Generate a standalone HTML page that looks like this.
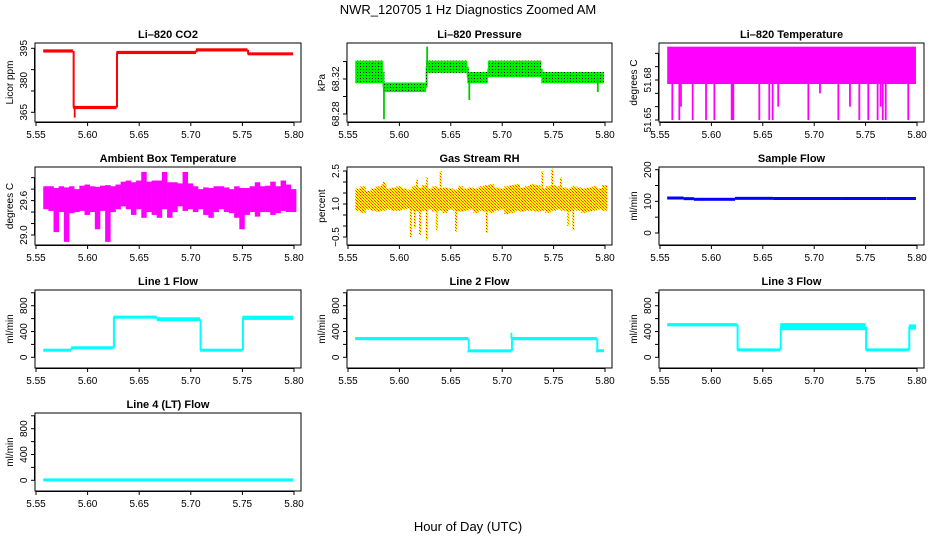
<!DOCTYPE html>
<html><head><meta charset="utf-8"><style>
html,body{margin:0;padding:0;background:#fff}
svg{display:block;font-family:"Liberation Sans",Arial,sans-serif}
</style></head><body>
<svg id="chart" width="936" height="540" viewBox="0 0 936 540">
<defs>
<pattern id="pgreen" width="3" height="3" patternUnits="userSpaceOnUse"><rect width="3" height="3" fill="#00ee00"/><rect width="1" height="1" fill="#000"/></pattern>
<pattern id="prh" width="3" height="3" patternUnits="userSpaceOnUse"><rect width="3" height="3" fill="#ffff00"/><rect width="1" height="1" fill="#ff2000"/><rect x="1" y="1" width="1" height="1" fill="#ff8000"/><rect x="2" y="2" width="1" height="1" fill="#ff4000"/></pattern>
</defs>
<text x="468" y="14" text-anchor="middle" font-size="13">NWR_120705  1 Hz Diagnostics Zoomed AM</text>
<text x="468" y="531" text-anchor="middle" font-size="13">Hour of Day (UTC)</text>
</svg>
<script>
// ---- data ----
const xTicks=[5.55,5.60,5.65,5.70,5.75,5.80];
const xTickLabels=["5.55","5.60","5.65","5.70","5.75","5.80"];
const xEnd=5.799;
const co2Start=[5.557,5.586,5.628,5.705,5.755];
const co2Lo=[393,366.5,392.3,393.5,391.8];
const co2Hi=[394.5,368,393.8,395,393];
const co2SpikeX=[5.5875];
const co2SpikeV=[362.5];
const presStart=[5.557,5.584,5.626,5.666,5.686,5.738];
const presLo=[68.315,68.305,68.327,68.315,68.322,68.315];
const presHi=[68.341,68.316,68.341,68.328,68.341,68.328];
const presSpikeX=[5.585,5.627,5.668,5.793];
const presSpikeV=[68.274,68.357,68.296,68.305];
const tempStart=[5.557];
const tempLo=[51.677];
const tempHi=[51.705];
const tempDipX=[5.562,5.5688,5.5704,5.5818,5.5948,5.6029,5.6197,5.6213,5.6466,5.6563,5.6596,5.665,5.6943,5.7056,5.7235,5.7348,5.7439,5.7526,5.7617,5.7647,5.7667,5.7696,5.7915];
const tempDipV=[51.65,51.65,51.66,51.65,51.65,51.65,51.65,51.65,51.65,51.65,51.65,51.66,51.65,51.67,51.65,51.66,51.65,51.65,51.65,51.66,51.65,51.65,51.65];
const binX0=5.557, binW=0.005;
const ambHi=[29.85,29.85,29.82,29.85,29.83,29.85,29.80,29.86,29.88,29.85,29.84,29.86,29.87,29.85,29.88,29.93,29.95,29.92,29.95,30.1,29.93,29.95,29.95,30.1,29.92,29.92,29.9,30.1,29.9,29.85,29.8,29.83,29.82,29.85,29.85,29.83,29.8,29.85,29.82,29.82,29.85,29.92,29.85,29.86,29.93,29.85,29.95,29.88,29.8];
const ambLo=[29.45,29.42,29.05,29.4,28.88,29.38,29.4,29.42,29.35,29.4,29.1,29.42,28.88,29.4,29.45,29.5,29.45,29.35,29.45,29.3,29.4,29.35,29.3,29.45,29.3,29.4,29.5,29.42,29.45,29.4,29.45,29.35,29.3,29.4,29.45,29.4,29.38,29.3,29.1,29.35,29.4,29.32,29.4,29.4,29.35,29.38,29.42,29.4,29.4];
const rhHi=[1.7,1.8,1.6,1.7,1.8,1.9,1.7,1.75,1.8,1.7,1.65,1.8,1.75,1.85,1.7,1.8,1.7,1.75,1.7,1.65,1.8,1.7,1.75,1.7,1.8,1.85,1.9,1.75,1.7,1.8,1.85,1.9,1.75,1.8,1.9,1.85,1.7,1.8,1.85,1.8,1.75,1.7,1.8,1.75,1.7,1.75,1.8,1.7,1.85];
const rhLo=[0.7,0.6,0.75,0.7,0.65,0.7,0.75,0.7,0.7,0.75,0.8,0.7,0.65,0.7,0.75,0.65,0.7,0.6,0.75,0.7,0.65,0.7,0.75,0.6,0.7,0.65,0.6,0.7,0.75,0.55,0.6,0.7,0.65,0.7,0.7,0.65,0.7,0.6,0.7,0.75,0.7,0.65,0.75,0.7,0.6,0.65,0.7,0.75,0.7];
const rhSpikeX=[5.611,5.615,5.620,5.6266,5.6363,5.655,5.685,5.7643,5.7692,5.640,5.7487,5.739,5.757,5.585,5.617,5.627];
const rhSpikeV=[-0.5,-0.1,-0.4,-0.65,-0.2,-0.25,-0.3,0.0,-0.2,2.5,2.6,2.5,2.2,2.0,2.1,2.2];
const sfStart=[5.557,5.573,5.583,5.623,5.660,5.727,5.770];
const sfLo=[109,106,103,106,106,106,106];
const sfHi=[112,111,110,113,112,112,112];
const l1Start=[5.557,5.584,5.625,5.667,5.709,5.750];
const l1Lo=[105,135,600,560,105,580];
const l1Hi=[115,160,645,620,115,645];
const l2Start=[5.557,5.667,5.709,5.792];
const l2Lo=[265,90,265,95];
const l2Hi=[315,110,315,110];
const l2SpikeX=[5.709,5.667,5.792];
const l2SpikeV=[380,75,75];
const l3Start=[5.557,5.625,5.667,5.750,5.792];
const l3Lo=[480,105,420,105,430];
const l3Hi=[530,125,530,125,510];
const l4Start=[5.557];
const l4Lo=[0];
const l4Hi=[12];

// ---- layout ----
const COLS=[[35,301],[347,612],[659,924]];
const TOPS=[43,167,290,413], BOTS=[122,245,368,491];
const NS='http://www.w3.org/2000/svg';
const svg=document.getElementById('chart');
function mk(tag,attrs,parent){const e=document.createElementNS(NS,tag);for(const k in attrs)e.setAttribute(k,attrs[k]);(parent||svg).appendChild(e);return e;}

function panel(opt){
  const [L,R]=COLS[opt.col];const T=TOPS[opt.row],B=BOTS[opt.row];
  const g=mk('g',{});
  
  
  const xs=v=>L+1+(v-5.55)/0.25*(R-L-8);
  const ys=v=>opt.y0+(v-opt.v0)*(opt.y1-opt.y0)/(opt.v1-opt.v0);
  const t=mk('text',{x:(L+R)/2,y:T-5,'text-anchor':'middle','font-size':11,'font-weight':'bold'},g);t.textContent=opt.title;
  
  
  const marks=mk('g',{},g);
  
  
  opt.draw(marks,xs,ys);
  const box=mk('rect',{x:L,y:T,width:R-L,height:B-T,fill:'none',stroke:'#000','stroke-width':1},g);
  
  
  const xa=mk('g',{},g);
  
  
  mk('line',{x1:xs(xTicks[0]),x2:xs(xTicks[xTicks.length-1]),y1:B+0.5,y2:B+0.5,stroke:'#000'},xa);
  xTicks.forEach((v,i)=>{const x=xs(v);mk('line',{x1:x,x2:x,y1:B,y2:B+4,stroke:'#000'},xa);
    const tt=mk('text',{x:x,y:B+16,'text-anchor':'middle','font-size':10},xa);tt.textContent=xTickLabels[i];
    
    });
  const ya=mk('g',{},g);
  
  
  const yt=opt.ticks;
  mk('line',{x1:L-0.5,x2:L-0.5,y1:ys(yt[0]),y2:ys(yt[yt.length-1]),stroke:'#000'},ya);
  yt.forEach(v=>{const y=ys(v);mk('line',{x1:L-4,x2:L,y1:y,y2:y,stroke:'#000'},ya);});
  opt.labels.forEach((s,i)=>{const y=ys(opt.labelVals[i]);const tt=mk('text',{x:L-8,y:y,'text-anchor':'middle','font-size':10,transform:`rotate(-90 ${L-8} ${y})`},ya);tt.textContent=s;
    
    });
  const yl=mk('text',{x:L-22,y:(T+B)/2,'text-anchor':'middle','font-size':10,transform:`rotate(-90 ${L-22} ${(T+B)/2})`},ya);yl.textContent=opt.ylab;
  
  
}
function steps(g,xs,ys,start,lo,hi,fill){
  for(let i=0;i<start.length;i++){
    const x0=xs(start[i]),x1=xs(i+1<start.length?start[i+1]:xEnd);
    let yA=ys(hi[i]),yB=ys(lo[i]);if(yB-yA<3){const m=(yA+yB)/2;yA=m-1.5;yB=m+1.5;}
    const r=mk('rect',{x:x0,y:yA,width:Math.max(1,x1-x0),height:yB-yA,fill:fill},g);
    
    
    if(i>0){const pm=ys((lo[i-1]+hi[i-1])/2),cm=ys((lo[i]+hi[i])/2);
      mk('rect',{x:x0-0.5,y:Math.min(pm,cm),width:2,height:Math.abs(cm-pm),fill:fill},g);}
  }
}
function spikes(g,xs,ys,sx,sv,base,fill){
  sx.forEach((x,i)=>{const y0=ys(base(x)),y1=ys(sv[i]);
    const r=mk('rect',{x:xs(x)-0.9,y:Math.min(y0,y1),width:1.8,height:Math.abs(y1-y0),fill:fill},g);
    
    });
}
function bins(g,xs,ys,hi,lo,fill){
  hi.forEach((h,i)=>{const x0=xs(binX0+i*binW),x1=xs(binX0+(i+1)*binW);
    const r=mk('rect',{x:x0,y:ys(h),width:x1-x0+0.3,height:ys(lo[i])-ys(h),fill:fill},g);
    
    });
}
function midOf(start,lo,hi){return x=>{let k=0;for(let i=0;i<start.length;i++)if(x>=start[i])k=i;return (lo[k]+hi[k])/2;};}

panel({col:0,row:0,name:'co2-panel',title:'Li\u2013820 CO2',ylab:'Licor ppm',v0:395,y0:48.3,v1:365,y1:112.3,ticks:[395,385,375,365],labels:['395','380','365'],labelVals:[395,380,365],
  draw:(g,xs,ys)=>{steps(g,xs,ys,co2Start,co2Lo,co2Hi,'#ff0000');spikes(g,xs,ys,co2SpikeX,co2SpikeV,midOf(co2Start,co2Lo,co2Hi),'#ff0000');}});
panel({col:1,row:0,name:'pressure-panel',title:'Li\u2013820 Pressure',ylab:'kPa',v0:68.32,y0:79,v1:68.28,y1:114,ticks:[68.28,68.30,68.32,68.34],labels:['68.28','68.32'],labelVals:[68.28,68.32],
  draw:(g,xs,ys)=>{steps(g,xs,ys,presStart,presLo,presHi,'url(#pgreen)');spikes(g,xs,ys,presSpikeX,presSpikeV,midOf(presStart,presLo,presHi),'#00cc00');}});
panel({col:2,row:0,name:'li820-temperature-panel',title:'Li\u2013820 Temperature',ylab:'degrees C',v0:51.68,y0:80,v1:51.65,y1:120,ticks:[51.65,51.66,51.67,51.68,51.69,51.70],labels:['51.65','51.68'],labelVals:[51.65,51.68],
  draw:(g,xs,ys)=>{steps(g,xs,ys,tempStart,tempLo,tempHi,'#ff00ff');spikes(g,xs,ys,tempDipX,tempDipV,()=>51.68,'#ff00ff');}});
panel({col:0,row:1,name:'ambient-temperature-panel',title:'Ambient Box Temperature',ylab:'degrees C',v0:29.6,y0:200.6,v1:29.0,y1:235,ticks:[29.0,29.2,29.4,29.6,29.8,30.0],labels:['29.0','29.6'],labelVals:[29.0,29.6],
  draw:(g,xs,ys)=>{bins(g,xs,ys,ambHi,ambLo,'#ff00ff');}});
panel({col:1,row:1,name:'rh-panel',title:'Gas Stream RH',ylab:'percent',v0:1.0,y0:204,v1:-0.5,y1:237,ticks:[-0.5,0,0.5,1.0,1.5,2.0,2.5],labels:['\u22120.5','1.0','2.5'],labelVals:[-0.5,1.0,2.5],
  draw:(g,xs,ys)=>{bins(g,xs,ys,rhHi,rhLo,'url(#prh)');spikes(g,xs,ys,rhSpikeX,rhSpikeV,()=>1.2,'url(#prh)');}});
panel({col:2,row:1,name:'sample-flow-panel',title:'Sample Flow',ylab:'ml/min',v0:0,y0:233,v1:200,y1:169.7,ticks:[0,50,100,150,200],labels:['0','100','200'],labelVals:[0,100,200],
  draw:(g,xs,ys)=>{steps(g,xs,ys,sfStart,sfLo,sfHi,'#0000ff');}});
const flowT=[0,200,400,600,800,1000];
panel({col:0,row:2,name:'line1-flow-panel',title:'Line 1 Flow',ylab:'ml/min',v0:0,y0:357.3,v1:800,y1:305.7,ticks:flowT,labels:['0','400','800'],labelVals:[0,400,800],
  draw:(g,xs,ys)=>{steps(g,xs,ys,l1Start,l1Lo,l1Hi,'#00ffff');}});
panel({col:1,row:2,name:'line2-flow-panel',title:'Line 2 Flow',ylab:'ml/min',v0:0,y0:357.3,v1:800,y1:305.7,ticks:flowT,labels:['0','400','800'],labelVals:[0,400,800],
  draw:(g,xs,ys)=>{steps(g,xs,ys,l2Start,l2Lo,l2Hi,'#00ffff');spikes(g,xs,ys,l2SpikeX,l2SpikeV,midOf(l2Start,l2Lo,l2Hi),'#00ffff');}});
panel({col:2,row:2,name:'line3-flow-panel',title:'Line 3 Flow',ylab:'ml/min',v0:0,y0:357.3,v1:800,y1:305.7,ticks:flowT,labels:['0','400','800'],labelVals:[0,400,800],
  draw:(g,xs,ys)=>{steps(g,xs,ys,l3Start,l3Lo,l3Hi,'#00ffff');}});
panel({col:0,row:3,name:'line4-flow-panel',title:'Line 4 (LT) Flow',ylab:'ml/min',v0:0,y0:480.3,v1:800,y1:428.7,ticks:flowT,labels:['0','400','800'],labelVals:[0,400,800],
  draw:(g,xs,ys)=>{steps(g,xs,ys,l4Start,l4Lo,l4Hi,'#00ffff');}});
</script>
</body></html>
